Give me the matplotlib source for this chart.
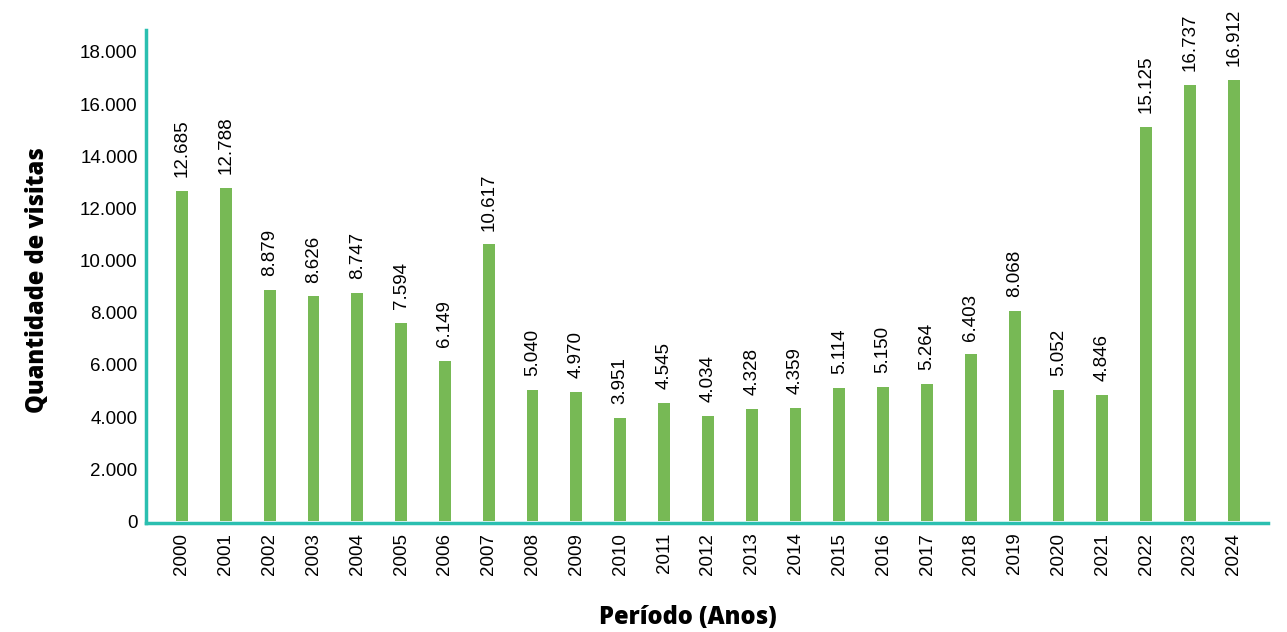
import matplotlib

matplotlib.use("Agg")
import matplotlib.pyplot as plt

YEARS = [str(y) for y in range(2000, 2025)]
VISITS = [12685, 12788, 8879, 8626, 8747, 7594, 6149, 10617, 5040, 4970,
          3951, 4545, 4034, 4328, 4359, 5114, 5150, 5264, 6403, 8068,
          5052, 4846, 15125, 16737, 16912]
Y_TICKS = [0, 2000, 4000, 6000, 8000, 10000, 12000, 14000, 16000, 18000]

BAR_COLOR = "#77b955"
AXIS_COLOR = "#2bbfb0"


def fmt(v):
    return f"{v:,}".replace(",", ".")


def main():
    plt.rcParams["font.family"] = ["Liberation Sans", "DejaVu Sans"]
    fig = plt.figure(figsize=(12.87, 6.32), dpi=100)
    ax = fig.add_axes([146 / 1287, 1 - 523 / 632, (1268 - 146) / 1287, (523 - 30) / 632])

    x = list(range(len(YEARS)))
    ax.bar(x, VISITS, width=0.27, color=BAR_COLOR, zorder=2)
    for xi, v in zip(x, VISITS):
        ax.annotate(fmt(v), (xi, v), xytext=(0, 10), textcoords="offset points",
                    rotation=90, ha="center", va="bottom", fontsize=13.5)

    ax.set_xlim(-0.82, 24.78)
    ax.set_ylim(-60, 18840)
    ax.set_xticks(x)
    ax.set_xticklabels(YEARS, rotation=90, fontsize=13.5)
    ax.set_yticks(Y_TICKS)
    ax.set_yticklabels([fmt(t) for t in Y_TICKS], fontsize=13.5)
    ax.tick_params(axis="x", length=0, pad=7)
    ax.tick_params(axis="y", length=0, pad=6)

    for side in ("top", "right"):
        ax.spines[side].set_visible(False)
    for side in ("left", "bottom"):
        ax.spines[side].set_color(AXIS_COLOR)
        ax.spines[side].set_linewidth(2.5)

    fig.text(38 / 1287, 1 - 280 / 632, "Quantidade de visitas", rotation=90,
             ha="center", va="center", fontsize=17, fontweight="heavy", family="Open Sans")
    fig.text(688 / 1287, 1 - 617 / 632, "Período (Anos)", ha="center", va="center",
             fontsize=17, fontweight="heavy", family="Open Sans")

    fig.savefig("out.png", dpi=100)
    plt.close(fig)


if __name__ == "__main__":
    main()
